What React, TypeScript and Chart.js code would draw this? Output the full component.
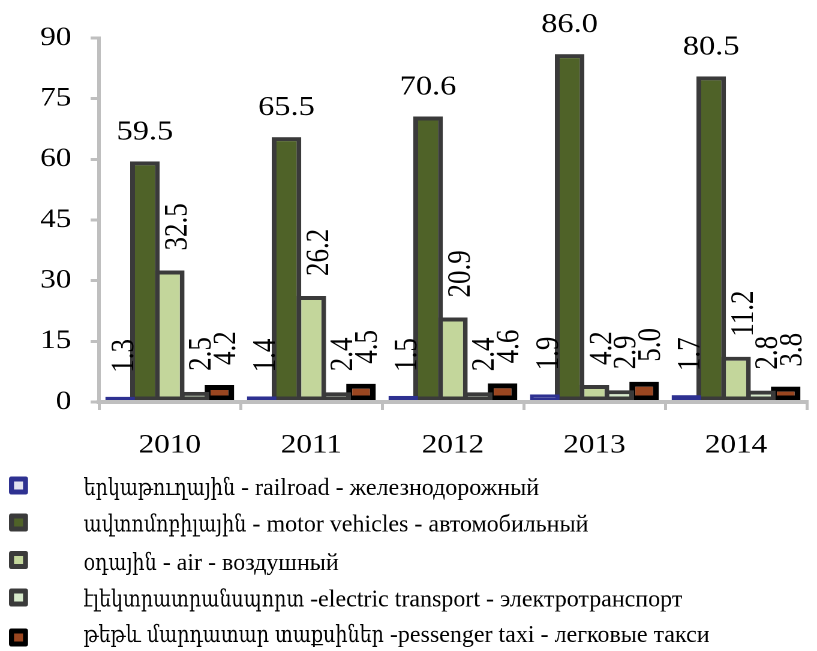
import React, { useEffect, useRef } from "react";
import { Chart, registerables } from "chart.js";

Chart.register(...registerables);

// ---- data ----
const years = ["2010", "2011", "2012", "2013", "2014"];
const railroad = [1.3, 1.4, 1.5, 1.9, 1.7];
const motorVehicles = [59.5, 65.5, 70.6, 86.0, 80.5];
const air = [32.5, 26.2, 20.9, 4.2, 11.2];
const electricTransport = [2.5, 2.4, 2.4, 2.9, 2.8];
const passengerTaxi = [4.2, 4.5, 4.6, 5.0, 3.8];
const yTickValues = [0, 15, 30, 45, 60, 75, 90];
const seriesNames = [
  "երկաթուղային - railroad - железнодорожный",
  "ավտոմոբիլային - motor vehicles - автомобильный",
  "օդային - air - воздушный",
  "էլեկտրատրանսպորտ -electric transport - электротранспорт",
  "թեթև մարդատար տաքսիներ -pessenger taxi - легковые такси",
];

// ---- styling ----
const FONT = "'Liberation Serif', 'Times New Roman', 'DejaVu Serif', serif";
const ARM_FONT = "'DejaVu Serif', serif";
const DISPLAY_W = 817;
const DISPLAY_H = 651;
const LOGICAL_W = 681; // plot drawn narrower, then stretched horizontally like the reference
const SX = DISPLAY_W / LOGICAL_W;

const fills = ["#E4E4F0", "#4F6228", "#C3D69B", "#D7EACB", "#9A4620"];
const borders = ["#2E3191", "#3A3A3A", "#3A3A3A", "#3A3A3A", "#000000"];
const borderWidths = [3, 4, 4, 4, 5];

const labelStyles = [
  { rotate: true, dx: 4, gap: 24 },
  { rotate: false, dx: 0, gap: 22 },
  { rotate: true, dx: 7, gap: 20 },
  { rotate: true, dx: 6, gap: 21 },
  { rotate: true, dx: 6, gap: 20 },
];

// legend drawn in display pixels (not stretched)
const legendStyle = {
  boxX: 9,
  boxW: 19,
  boxH: 18,
  border: 5,
  textX: 83.5,
  boxCenters: [485.5, 522.5, 560, 597.5, 637.5],
  baselines: [495, 531.5, 570, 606.5, 642],
  fontSize: 24,
  armScale: 0.83,
};

const valueLabelPlugin = {
  id: "valueLabels",
  afterDatasetsDraw(chart: any) {
    const ctx = chart.ctx;
    ctx.save();
    ctx.fillStyle = "#000";
    chart.data.datasets.forEach((ds: any, di: number) => {
      const meta = chart.getDatasetMeta(di);
      const st = labelStyles[di];
      meta.data.forEach((el: any, i: number) => {
        const txt = Number(ds.data[i]).toFixed(1);
        if (st.rotate) {
          ctx.save();
          ctx.font = `27px ${FONT}`;
          ctx.translate(el.x + st.dx, el.y - st.gap);
          ctx.rotate(-Math.PI / 2);
          ctx.textAlign = "left";
          ctx.textBaseline = "middle";
          ctx.fillText(txt, 0, 0);
          ctx.restore();
        } else {
          ctx.font = `27px ${FONT}`;
          ctx.textAlign = "center";
          ctx.textBaseline = "alphabetic";
          ctx.fillText(txt, el.x + st.dx, el.y - st.gap);
        }
      });
    });
    ctx.restore();
  },
};

function roundRect(ctx: any, x: number, y: number, w: number, h: number, r: number) {
  ctx.beginPath();
  ctx.moveTo(x + r, y);
  ctx.lineTo(x + w - r, y);
  ctx.quadraticCurveTo(x + w, y, x + w, y + r);
  ctx.lineTo(x + w, y + h - r);
  ctx.quadraticCurveTo(x + w, y + h, x + w - r, y + h);
  ctx.lineTo(x + r, y + h);
  ctx.quadraticCurveTo(x, y + h, x, y + h - r);
  ctx.lineTo(x, y + r);
  ctx.quadraticCurveTo(x, y, x + r, y);
  ctx.closePath();
}

const legendPlugin = {
  id: "customLegend",
  afterDraw(chart: any) {
    const ctx = chart.ctx;
    const L = legendStyle;
    ctx.save();
    ctx.scale(1 / SX, 1); // work in display pixels
    chart.data.datasets.forEach((ds: any, i: number) => {
      const cy = L.boxCenters[i];
      const top = cy - L.boxH / 2;
      ctx.fillStyle = ds.borderColor;
      roundRect(ctx, L.boxX, top, L.boxW, L.boxH, 2.5);
      ctx.fill();
      ctx.fillStyle = ds.backgroundColor;
      ctx.fillRect(L.boxX + L.border, top + L.border, L.boxW - 2 * L.border, L.boxH - 2 * L.border);

      const label: string = ds.label;
      const cut = label.indexOf(" -");
      const arm = cut >= 0 ? label.slice(0, cut) : label;
      const rest = cut >= 0 ? label.slice(cut) : "";
      ctx.fillStyle = "#000";
      ctx.textAlign = "left";
      ctx.textBaseline = "alphabetic";
      ctx.font = `${L.fontSize - 1}px ${ARM_FONT}`;
      const armW = ctx.measureText(arm).width * L.armScale;
      ctx.save();
      ctx.translate(L.textX, L.baselines[i]);
      ctx.scale(L.armScale, 1);
      ctx.fillText(arm, 0, 0);
      ctx.restore();
      ctx.font = `${L.fontSize}px ${FONT}`;
      ctx.fillText(rest, L.textX + armW, L.baselines[i]);
    });
    ctx.restore();
  },
};

export default function App() {
  const canvasRef = useRef<HTMLCanvasElement | null>(null);

  useEffect(() => {
    const canvas = canvasRef.current;
    if (!canvas) return;
    const seriesValues = [railroad, motorVehicles, air, electricTransport, passengerTaxi];
    const chart = new Chart(canvas, {
      type: "bar",
      data: {
        labels: years,
        datasets: seriesValues.map((vals, i) => ({
          label: seriesNames[i],
          data: vals,
          backgroundColor: fills[i],
          borderColor: borders[i],
          borderWidth: borderWidths[i],
          borderSkipped: false,
          categoryPercentage: 0.877,
          barPercentage: 1.19,
          inflateAmount: 0,
        })),
      },
      options: {
        animation: false,
        responsive: false,
        devicePixelRatio: 2,
        events: [],
        layout: { padding: { top: 38, right: 8.5, bottom: 189, left: 0 } },
        plugins: {
          legend: { display: false },
          tooltip: { enabled: false },
          title: { display: false },
        },
        scales: {
          x: {
            grid: {
              display: true,
              drawOnChartArea: false,
              drawTicks: true,
              tickLength: 8,
              color: "#BFBFBF",
              lineWidth: 2.5,
              offset: true,
            },
            border: { display: true, color: "#BFBFBF", width: 4, z: 1 },
            ticks: {
              font: { family: FONT, size: 26 },
              color: "#000",
              padding: 20,
              maxRotation: 0,
            },
            afterFit: (scale: any) => {
              scale.height = 60;
            },
          },
          y: {
            min: 0,
            max: 90,
            afterBuildTicks: (scale: any) => {
              scale.ticks = yTickValues.map((v) => ({ value: v }));
            },
            grid: {
              display: true,
              drawOnChartArea: false,
              drawTicks: true,
              tickLength: 7,
              color: "#BFBFBF",
              lineWidth: 3,
            },
            border: { display: true, color: "#BFBFBF", width: 3, z: 1 },
            ticks: {
              font: { family: FONT, size: 26 },
              color: "#000",
              padding: 16,
            },
            afterFit: (scale: any) => {
              scale.width = 82.5;
            },
          },
        },
      },
      plugins: [valueLabelPlugin, legendPlugin],
    } as any);
    return () => chart.destroy();
  }, []);

  return (
    <div style={{ position: "absolute", left: 0, top: 0, width: DISPLAY_W, height: DISPLAY_H, background: "#fff" }}>
      <canvas
        ref={canvasRef}
        width={LOGICAL_W}
        height={DISPLAY_H}
        style={{ width: `${DISPLAY_W}px`, height: `${DISPLAY_H}px`, display: "block" }}
      />
    </div>
  );
}
